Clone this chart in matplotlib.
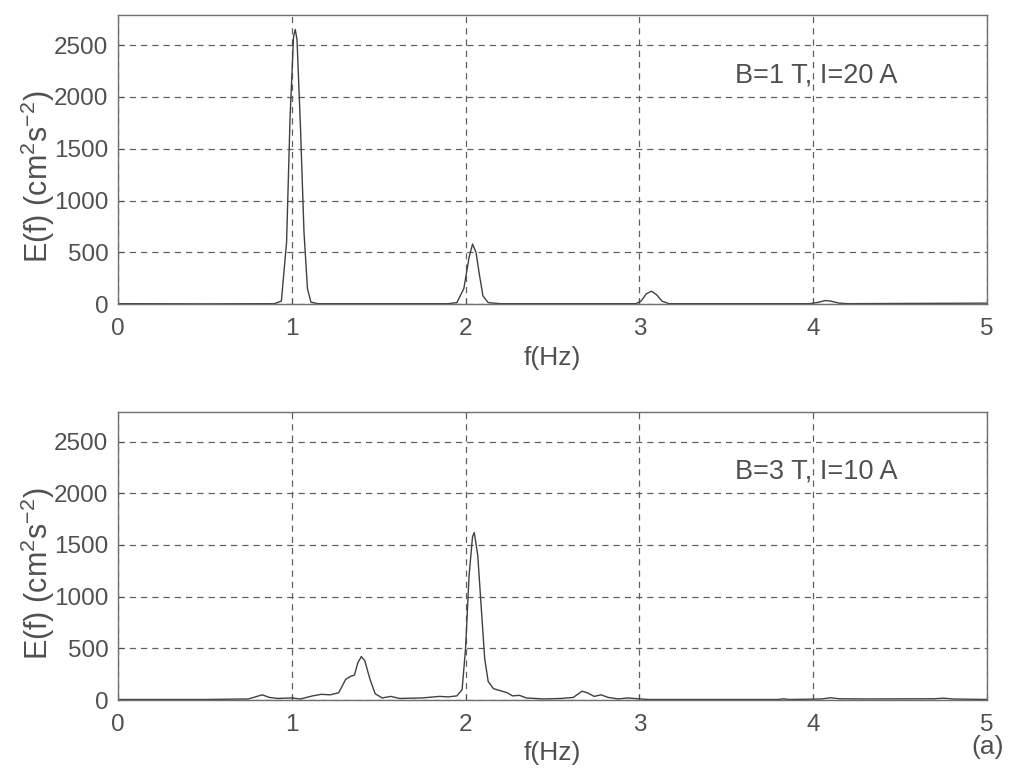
import matplotlib
matplotlib.use("Agg")
import matplotlib.pyplot as plt

plt.rcParams['font.family'] = ['Liberation Sans', 'DejaVu Sans']
plt.rcParams['mathtext.default'] = 'regular'

# spectrum points: (f in Hz, E in cm^2 s^-2)
f_top = [0.0, 0.5, 0.9, 0.94, 0.97, 0.99, 1.01, 1.02, 1.03, 1.05, 1.07, 1.09, 1.11, 1.15,
         1.9, 1.95, 1.99, 2.02, 2.04, 2.06, 2.08, 2.10, 2.13, 2.2,
         2.98, 3.01, 3.04, 3.07, 3.10, 3.13, 3.17,
         3.98, 4.02, 4.07, 4.10, 4.15, 4.2, 5.0]
e_top = [5, 3, 5, 30, 600, 1800, 2580, 2650, 2550, 1700, 700, 150, 20, 5,
         5, 15, 150, 450, 580, 500, 280, 80, 15, 5,
         5, 30, 100, 125, 90, 30, 5,
         5, 15, 35, 30, 10, 5, 10]

f_bot = [0.0, 0.5, 0.75, 0.80, 0.83, 0.87, 0.92, 1.0, 1.05, 1.12, 1.17, 1.22, 1.27,
         1.31, 1.34, 1.36, 1.38, 1.40, 1.42, 1.45, 1.48, 1.52, 1.57, 1.62, 1.75,
         1.85, 1.9, 1.95, 1.98, 2.0, 2.02, 2.04, 2.05, 2.07, 2.09, 2.11, 2.13,
         2.16, 2.20, 2.24, 2.27, 2.31, 2.35, 2.45, 2.55, 2.62, 2.67, 2.70, 2.74,
         2.78, 2.82, 2.88, 2.93, 2.97, 3.05, 3.8, 3.83, 3.86, 4.05, 4.1, 4.15,
         4.3, 4.7, 4.75, 4.8, 5.0]
e_bot = [5, 5, 10, 35, 50, 25, 15, 20, 10, 40, 55, 50, 70,
         200, 230, 240, 360, 420, 380, 200, 60, 20, 35, 15, 20,
         35, 30, 40, 100, 500, 1200, 1580, 1620, 1400, 900, 400, 180,
         110, 90, 70, 40, 45, 20, 10, 15, 25, 85, 70, 35,
         50, 25, 10, 20, 15, 5, 5, 12, 5, 10, 22, 12,
         10, 12, 18, 10, 5]

labels = ["B=1 T, I=20 A", "B=3 T, I=10 A"]
x_ticks = [0, 1, 2, 3, 4, 5]
y_ticks = [0, 500, 1000, 1500, 2000, 2500]

GREY = "#505050"

fig = plt.figure(figsize=(10.21, 7.74), dpi=100)
ax_top = fig.add_axes([0.1156, 0.607, 0.851, 0.373])
ax_bot = fig.add_axes([0.1156, 0.0956, 0.851, 0.372])

for ax, f, e, lab in [(ax_top, f_top, e_top, labels[0]), (ax_bot, f_bot, e_bot, labels[1])]:
    ax.plot(f, e, color="#404040", lw=1.0)
    ax.set_xlim(0, 5)
    ax.set_ylim(0, 2785)
    ax.set_xticks(x_ticks)
    ax.set_yticks(y_ticks)
    ax.grid(True, linestyle=(0, (5, 4)), color="#606060", lw=0.9)
    ax.tick_params(direction="in", length=4, colors=GREY, labelsize=17.5, labelcolor=GREY)
    ax.tick_params(axis="x", pad=10)
    ax.tick_params(axis="y", pad=7)
    for sp in ax.spines.values():
        sp.set_color("#707070")
        sp.set_linewidth(1.0)
    ax.set_xlabel("f(Hz)", fontsize=19, color=GREY, labelpad=4)
    ax.set_ylabel("E(f) (cm$^{2}$s$^{-2}$)", fontsize=22, color=GREY, va="center")
    ax.yaxis.set_label_coords(-0.092, 0.44)
    ax.text(3.55, 2210, lab, fontsize=19.5, color=GREY, va="center", ha="left")

fig.text(0.983, 0.035, "(a)", fontsize=19, color=GREY, ha="right", va="center")

fig.savefig("out.png", dpi=100)
